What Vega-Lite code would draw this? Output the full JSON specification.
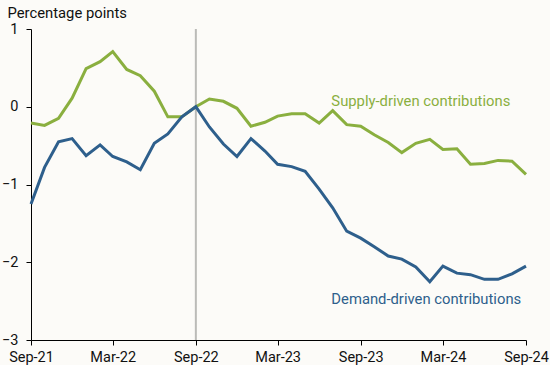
{
  "$schema": "https://vega.github.io/schema/vega-lite/v6.json",
  "autosize": {"type": "none"},
  "width": 495,
  "height": 311,
  "padding": {"left": 31, "top": 29, "right": 24, "bottom": 25},
  "background": "#FCFBF8",
  "config": {
    "view": {"stroke": null},
    "font": "Roboto",
    "axis": {"labelFont": "Roboto", "labelFontSize": 14, "labelColor": "#111", "domainColor": "#000", "tickColor": "#000", "grid": false}
  },
  "datasets": {
    "series": [
      {"date": "2021-09-01", "series": "Supply", "value": -0.21},
      {"date": "2021-10-01", "series": "Supply", "value": -0.24},
      {"date": "2021-11-01", "series": "Supply", "value": -0.15},
      {"date": "2021-12-01", "series": "Supply", "value": 0.11},
      {"date": "2022-01-01", "series": "Supply", "value": 0.49},
      {"date": "2022-02-01", "series": "Supply", "value": 0.58},
      {"date": "2022-03-01", "series": "Supply", "value": 0.71},
      {"date": "2022-04-01", "series": "Supply", "value": 0.48},
      {"date": "2022-05-01", "series": "Supply", "value": 0.40},
      {"date": "2022-06-01", "series": "Supply", "value": 0.20},
      {"date": "2022-07-01", "series": "Supply", "value": -0.13},
      {"date": "2022-08-01", "series": "Supply", "value": -0.13},
      {"date": "2022-09-01", "series": "Supply", "value": 0.0},
      {"date": "2022-10-01", "series": "Supply", "value": 0.10},
      {"date": "2022-11-01", "series": "Supply", "value": 0.07},
      {"date": "2022-12-01", "series": "Supply", "value": -0.02},
      {"date": "2023-01-01", "series": "Supply", "value": -0.25},
      {"date": "2023-02-01", "series": "Supply", "value": -0.20},
      {"date": "2023-03-01", "series": "Supply", "value": -0.12},
      {"date": "2023-04-01", "series": "Supply", "value": -0.09},
      {"date": "2023-05-01", "series": "Supply", "value": -0.09},
      {"date": "2023-06-01", "series": "Supply", "value": -0.21},
      {"date": "2023-07-01", "series": "Supply", "value": -0.05},
      {"date": "2023-08-01", "series": "Supply", "value": -0.23},
      {"date": "2023-09-01", "series": "Supply", "value": -0.25},
      {"date": "2023-10-01", "series": "Supply", "value": -0.36},
      {"date": "2023-11-01", "series": "Supply", "value": -0.46},
      {"date": "2023-12-01", "series": "Supply", "value": -0.59},
      {"date": "2024-01-01", "series": "Supply", "value": -0.47},
      {"date": "2024-02-01", "series": "Supply", "value": -0.42},
      {"date": "2024-03-01", "series": "Supply", "value": -0.55},
      {"date": "2024-04-01", "series": "Supply", "value": -0.54},
      {"date": "2024-05-01", "series": "Supply", "value": -0.74},
      {"date": "2024-06-01", "series": "Supply", "value": -0.73},
      {"date": "2024-07-01", "series": "Supply", "value": -0.69},
      {"date": "2024-08-01", "series": "Supply", "value": -0.70},
      {"date": "2024-09-01", "series": "Supply", "value": -0.87},
      {"date": "2021-09-01", "series": "Demand", "value": -1.25},
      {"date": "2021-10-01", "series": "Demand", "value": -0.78},
      {"date": "2021-11-01", "series": "Demand", "value": -0.45},
      {"date": "2021-12-01", "series": "Demand", "value": -0.41},
      {"date": "2022-01-01", "series": "Demand", "value": -0.63},
      {"date": "2022-02-01", "series": "Demand", "value": -0.49},
      {"date": "2022-03-01", "series": "Demand", "value": -0.64},
      {"date": "2022-04-01", "series": "Demand", "value": -0.71},
      {"date": "2022-05-01", "series": "Demand", "value": -0.81},
      {"date": "2022-06-01", "series": "Demand", "value": -0.47},
      {"date": "2022-07-01", "series": "Demand", "value": -0.35},
      {"date": "2022-08-01", "series": "Demand", "value": -0.13},
      {"date": "2022-09-01", "series": "Demand", "value": 0.0},
      {"date": "2022-10-01", "series": "Demand", "value": -0.26},
      {"date": "2022-11-01", "series": "Demand", "value": -0.48},
      {"date": "2022-12-01", "series": "Demand", "value": -0.64},
      {"date": "2023-01-01", "series": "Demand", "value": -0.41},
      {"date": "2023-02-01", "series": "Demand", "value": -0.57},
      {"date": "2023-03-01", "series": "Demand", "value": -0.74},
      {"date": "2023-04-01", "series": "Demand", "value": -0.77},
      {"date": "2023-05-01", "series": "Demand", "value": -0.83},
      {"date": "2023-06-01", "series": "Demand", "value": -1.06},
      {"date": "2023-07-01", "series": "Demand", "value": -1.30},
      {"date": "2023-08-01", "series": "Demand", "value": -1.60},
      {"date": "2023-09-01", "series": "Demand", "value": -1.69},
      {"date": "2023-10-01", "series": "Demand", "value": -1.80},
      {"date": "2023-11-01", "series": "Demand", "value": -1.92},
      {"date": "2023-12-01", "series": "Demand", "value": -1.96},
      {"date": "2024-01-01", "series": "Demand", "value": -2.06},
      {"date": "2024-02-01", "series": "Demand", "value": -2.25},
      {"date": "2024-03-01", "series": "Demand", "value": -2.05},
      {"date": "2024-04-01", "series": "Demand", "value": -2.14},
      {"date": "2024-05-01", "series": "Demand", "value": -2.16},
      {"date": "2024-06-01", "series": "Demand", "value": -2.22},
      {"date": "2024-07-01", "series": "Demand", "value": -2.22},
      {"date": "2024-08-01", "series": "Demand", "value": -2.15},
      {"date": "2024-09-01", "series": "Demand", "value": -2.05}
    ],
    "labels": [
      {"date": "2023-06-28", "value": 0.065, "series": "Supply", "text": "Supply-driven contributions"},
      {"date": "2023-06-28", "value": -2.48, "series": "Demand", "text": "Demand-driven contributions"}
    ],
    "rule": [{"date": "2022-09-01"}]
  },
  "layer": [
    {
      "data": {"name": "rule"},
      "mark": {"type": "rule", "color": "#BBBBB8", "strokeWidth": 2},
      "encoding": {
        "x": {"field": "date", "type": "temporal", "scale": {"type": "utc"}}
      }
    },
    {
      "data": {"name": "series"},
      "mark": {"type": "line", "strokeWidth": 3, "strokeJoin": "miter"},
      "encoding": {
        "x": {
          "field": "date", "type": "temporal",
          "scale": {"type": "utc", "domain": [{"year": 2021, "month": 9, "date": 1, "utc": true}, {"year": 2024, "month": 9, "date": 1, "utc": true}]},
          "axis": {
            "title": null,
            "labelExpr": "utcFormat(datum.value, '%b-%y')",
            "values": [
              {"year": 2021, "month": 9, "date": 1, "utc": true},
              {"year": 2022, "month": 3, "date": 1, "utc": true},
              {"year": 2022, "month": 9, "date": 1, "utc": true},
              {"year": 2023, "month": 3, "date": 1, "utc": true},
              {"year": 2023, "month": 9, "date": 1, "utc": true},
              {"year": 2024, "month": 3, "date": 1, "utc": true},
              {"year": 2024, "month": 9, "date": 1, "utc": true}
            ],
            "labelFontSize": 14.5,
            "tickSize": 5, "labelPadding": 5, "labelFlush": false, "labelOverlap": false
          }
        },
        "y": {
          "field": "value", "type": "quantitative",
          "scale": {"domain": [-3, 1], "nice": false},
          "axis": {
            "values": [-3, -2, -1, 0, 1],
            "format": "d",
            "labelFontSize": 14.5,
            "tickSize": 5, "labelPadding": 8,
            "title": "Percentage points",
            "titleAngle": 0, "titleAlign": "left", "titleBaseline": "alphabetic",
            "titleX": -24, "titleY": -12,
            "titleFont": "Roboto", "titleFontSize": 14.8, "titleFontWeight": "normal", "titleColor": "#111"
          }
        },
        "color": {
          "field": "series", "type": "nominal",
          "scale": {"domain": ["Supply", "Demand"], "range": ["#8AAF3F", "#2E5F8C"]},
          "legend": null
        }
      }
    },
    {
      "data": {"name": "labels"},
      "mark": {"type": "text", "align": "left", "baseline": "middle", "fontSize": 14.8, "font": "Roboto"},
      "encoding": {
        "x": {"field": "date", "type": "temporal", "scale": {"type": "utc"}},
        "y": {"field": "value", "type": "quantitative"},
        "text": {"field": "text"},
        "color": {"field": "series", "type": "nominal", "legend": null}
      }
    }
  ]
}
